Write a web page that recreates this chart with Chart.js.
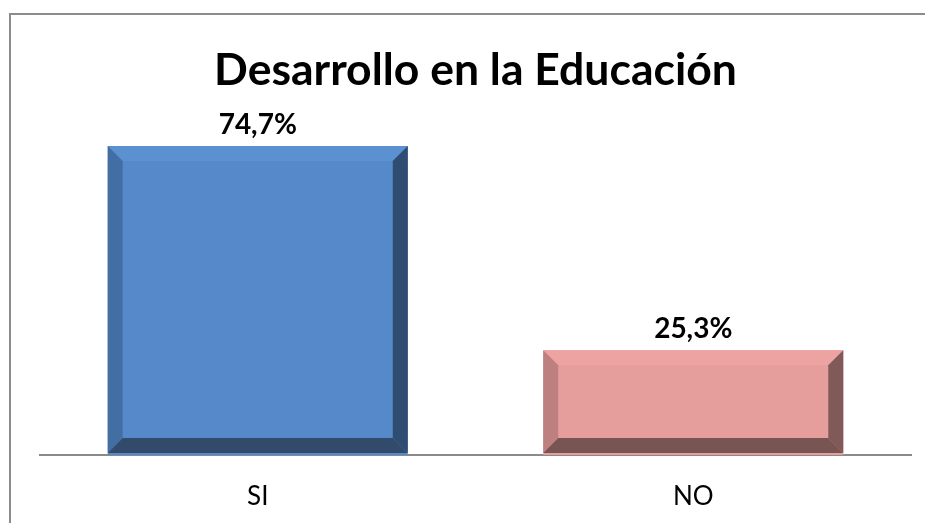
<!DOCTYPE html>
<html>
<head>
<meta charset="utf-8">
<script src="https://cdn.jsdelivr.net/npm/chart.js@4"></script>
<style>
  html, body { margin: 0; padding: 0; background: #fff; }
  .marco {
    position: absolute; left: 9px; top: 13px; right: 0; bottom: 0;
    border-left: 2px solid #8c8c8c; border-top: 2px solid #8c8c8c;
  }
  #grafico { position: absolute; left: 0; top: 0; }
</style>
</head>
<body>
<div class="marco"></div>
<canvas id="grafico" width="925" height="523"></canvas>
<script>
const categorias = ['SI', 'NO'];
const porcentajes = [74.7, 25.3];
const titulo = 'Desarrollo en la Educación';

// colores del bisel: cara, arriba, izquierda, derecha, abajo
const colorCara = ['#5589c9', '#e59e9c'];
const colorArriba = ['#5b90d1', '#eca3a2'];
const colorIzq = ['#436ea3', '#bd807f'];
const colorDer = ['#2f4d72', '#7f5a59'];
const colorAbajo = ['#334b6b', '#785453'];

const bisel = {
  id: 'bisel',
  afterDatasetsDraw(chart) {
    const ctx = chart.ctx;
    const meta = chart.getDatasetMeta(0);
    const b = 15;
    meta.data.forEach((bar, i) => {
      const p = bar.getProps(['x', 'y', 'base', 'width'], true);
      const l = p.x - p.width / 2, r = p.x + p.width / 2, t = p.y, bt = p.base - 2;
      const poly = (pts, color) => {
        ctx.beginPath();
        ctx.moveTo(pts[0][0], pts[0][1]);
        for (let k = 1; k < pts.length; k++) ctx.lineTo(pts[k][0], pts[k][1]);
        ctx.closePath();
        ctx.fillStyle = color;
        ctx.fill();
      };
      ctx.save();
      poly([[l, t], [r, t], [r - b, t + b], [l + b, t + b]], colorArriba[i]);
      poly([[l, t], [l + b, t + b], [l + b, bt - b], [l, bt]], colorIzq[i]);
      poly([[r, t], [r, bt], [r - b, bt - b], [r - b, t + b]], colorDer[i]);
      poly([[l, bt], [r, bt], [r - b, bt - b], [l + b, bt - b]], colorAbajo[i]);

      // etiqueta de datos
      ctx.fillStyle = '#000';
      ctx.font = 'bold 28px Lato';
      ctx.textAlign = 'center';
      ctx.textBaseline = 'alphabetic';
      ctx.fillText(porcentajes[i].toFixed(1).replace('.', ',') + '%', p.x, t - 12);
      ctx.restore();
    });
  }
};

new Chart(document.getElementById('grafico'), {
  type: 'bar',
  data: {
    labels: categorias,
    datasets: [{
      data: porcentajes,
      backgroundColor: colorCara,
      categoryPercentage: 1,
      barPercentage: 0.689
    }]
  },
  options: {
    responsive: false,
    animation: false,
    layout: { padding: { left: 40, right: 14, top: 0, bottom: 11 } },
    plugins: {
      legend: { display: false },
      tooltip: { enabled: false },
      title: {
        display: true,
        text: titulo,
        color: '#000',
        font: { family: 'Lato', size: 44.5, weight: 'bold' },
        padding: { top: 44, bottom: 26.6 }
      }
    },
    scales: {
      x: {
        grid: { display: false, drawTicks: false },
        border: { display: true, color: '#8a8a8a', width: 2 },
        ticks: { color: '#000', padding: 26, font: { family: 'Lato', size: 26 } },
        afterFit(scale) { scale.height = 57; }
      },
      y: { display: false, min: 0, max: 80 }
    }
  },
  plugins: [bisel]
});
</script>
</body>
</html>
